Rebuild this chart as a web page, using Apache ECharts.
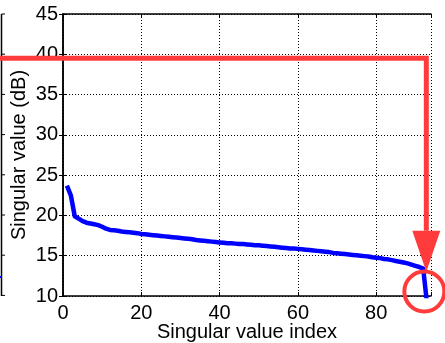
<!DOCTYPE html>
<html>
<head>
<meta charset="utf-8">
<script src="https://cdn.jsdelivr.net/npm/echarts@6/dist/echarts.min.js"></script>
<style>
html,body{margin:0;padding:0;background:#fff;}
#c{width:445px;height:343px;}
</style>
</head>
<body>
<div id="c"></div>
<script>
// Singular value index (1..93)
const indices = [];
for (let i = 1; i <= 93; i++) indices.push(i);
// Singular values (dB)
const singularValues = [
  23.7, 22.5, 19.9, 19.6, 19.3, 19.1, 19.0, 18.9, 18.8, 18.6,
  18.35, 18.2, 18.15, 18.1, 18.0, 17.95, 17.9, 17.85, 17.8, 17.7,
  17.65, 17.6, 17.55, 17.5, 17.45, 17.4, 17.35, 17.3, 17.25, 17.2,
  17.15, 17.1, 17.05, 16.95, 16.9, 16.85, 16.8, 16.75, 16.7, 16.65,
  16.6, 16.55, 16.55, 16.5, 16.45, 16.45, 16.4, 16.35, 16.3, 16.3,
  16.25, 16.2, 16.15, 16.1, 16.05, 16.0, 15.95, 15.9, 15.9, 15.85,
  15.8, 15.75, 15.7, 15.65, 15.6, 15.55, 15.5, 15.45, 15.35, 15.3,
  15.25, 15.2, 15.15, 15.1, 15.05, 15.0, 14.95, 14.9, 14.8, 14.75,
  14.7, 14.6, 14.55, 14.45, 14.35, 14.25, 14.15, 14.05, 13.9, 13.75,
  13.6, 13.4, 9.0
];
// Tick settings
const xTicks = [0, 20, 40, 60, 80];
const yTicks = [10, 15, 20, 25, 30, 35, 40, 45];
// Annotation values
const thresholdValue = 39.5;
const cutoffIndex = 92.8;

const FONT = 'Liberation Sans, Arial, sans-serif';
const FS = 20;
const chart = echarts.init(document.getElementById('c'), null, {renderer: 'canvas'});
const dotted = {color: '#000', width: 1, type: [1, 2]};

const option = {
  animation: false,
  backgroundColor: '#fff',
  grid: {left: 63, right: 14, top: 14, bottom: 47, containLabel: false, outerBoundsMode: 'none'},
  xAxis: [{
    type: 'value', min: 0, max: 94, interval: 20,
    name: 'Singular value index', nameLocation: 'middle', nameGap: 26, nameMoveOverlap: false,
    nameTextStyle: {fontFamily: FONT, fontSize: FS, color: '#000'},
    axisLine: {show: true, lineStyle: {color: '#000', width: 1.5}},
    axisTick: {show: true, inside: true, length: 4, lineStyle: {color: '#000'}},
    axisLabel: {fontFamily: FONT, fontSize: FS, color: '#000', margin: 7,
      formatter: v => xTicks.includes(v) ? String(v) : ''},
    splitLine: {show: true, lineStyle: dotted}
  }, {
    type: 'value', position: 'top', min: 0, max: 94, interval: 20,
    axisLine: {show: true, lineStyle: {color: '#000', width: 1.5}},
    axisTick: {show: true, inside: true, length: 4, lineStyle: {color: '#000'}},
    axisLabel: {show: false}, splitLine: {show: false}
  }],
  yAxis: [{
    type: 'value', min: 10, max: 45, interval: 5,
    name: 'Singular value (dB)', nameLocation: 'middle', nameGap: 34, nameMoveOverlap: false,
    nameTextStyle: {fontFamily: FONT, fontSize: FS, color: '#000'},
    axisLine: {show: true, lineStyle: {color: '#000', width: 1.5}},
    axisTick: {show: true, inside: true, length: 4, lineStyle: {color: '#000'}},
    axisLabel: {fontFamily: FONT, fontSize: FS, color: '#000', margin: 5,
      formatter: v => yTicks.includes(v) ? String(v) : ''},
    splitLine: {show: true, lineStyle: dotted}
  }, {
    type: 'value', position: 'right', min: 10, max: 45, interval: 5,
    axisLine: {show: true, lineStyle: {color: '#000', width: 1.5}},
    axisTick: {show: true, inside: true, length: 4, lineStyle: {color: '#000'}},
    axisLabel: {show: false}, splitLine: {show: false}
  }],
  series: [{
    type: 'line',
    xAxisIndex: 0, yAxisIndex: 0,
    data: indices.map((x, i) => [x, singularValues[i]]),
    showSymbol: false, symbol: 'none',
    clip: true,
    lineStyle: {color: '#0000ff', width: 4.5, join: 'round'},
    z: 3
  }]
};
chart.setOption(option);

// Annotation drawn relative to the axes
const P = (x, y) => chart.convertToPixel({xAxisIndex: 0, yAxisIndex: 0}, [x, y]);
const corner = P(cutoffIndex, thresholdValue);
const headTop = P(cutoffIndex, 18.1);
const headTip = P(cutoffIndex, 13.0);
const circ = P(92.3, 10.55);
const bottomLeft = P(0, 10);
const topLeft = P(0, 45);
const RED = '#ff3b3b';

const leftTicks = [];
for (let k = 0; k <= 7; k++) {
  const yy = topLeft[1] + k * 40.2;
  leftTicks.push({type: 'line', shape: {x1: 1.5, y1: yy, x2: 5, y2: yy},
    style: {stroke: '#000', lineWidth: 1}});
}

chart.setOption({
  graphic: [
    // remnant of neighbouring panel at the left edge
    {type: 'line', shape: {x1: 1.5, y1: topLeft[1], x2: 1.5, y2: bottomLeft[1]},
      style: {stroke: '#000', lineWidth: 1.5}},
    ...leftTicks,
    {type: 'line', shape: {x1: 0, y1: 277, x2: 2, y2: 277},
      style: {stroke: '#0000ff', lineWidth: 2}},
    // red annotation
    {type: 'polyline', z: 100,
      shape: {points: [[0, corner[1]], [corner[0], corner[1]], [corner[0], headTop[1]]]},
      style: {stroke: RED, lineWidth: 5, fill: null, lineJoin: 'miter'}},
    {type: 'polygon', z: 100,
      shape: {points: [[corner[0] - 14, headTop[1]], [corner[0] + 14, headTop[1]], [corner[0], headTip[1]]]},
      style: {fill: RED}},
    {type: 'circle', z: 100,
      shape: {cx: circ[0], cy: circ[1], r: 20},
      style: {stroke: RED, lineWidth: 4, fill: null}}
  ]
});
</script>
</body>
</html>
